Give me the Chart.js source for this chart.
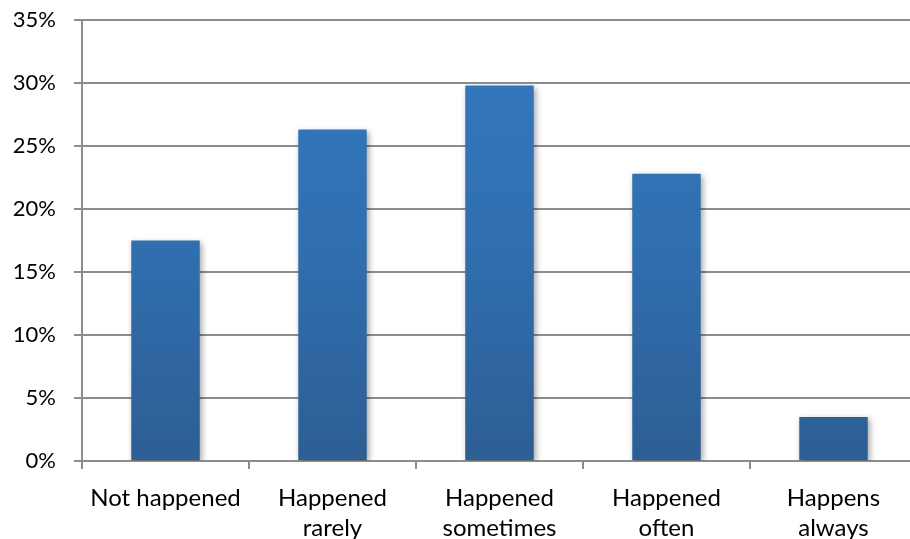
<!DOCTYPE html>
<html>
<head>
<meta charset="utf-8">
<script src="https://cdn.jsdelivr.net/npm/chart.js@4"></script>
<style>
    html, body { margin: 0; padding: 0; background: #fff; overflow: hidden; }
    #wrap { width: 920px; height: 539px; }
</style>
</head>
<body>
<div id="wrap"><canvas id="chart" width="920" height="539"></canvas></div>
<script>
// Категории и значения (в процентах)
const categories = [
    'Not happened',
    ['Happened', 'rarely'],
    ['Happened', 'sometimes'],
    ['Happened', 'often'],
    ['Happens', 'always']
];
const values = [17.5, 26.3, 29.8, 22.8, 3.5];
const yTicks = [0, 5, 10, 15, 20, 25, 30, 35];

const gridColor = '#8a8e8c';

// Тень под столбцами
const shadowPlugin = {
    id: 'barShadow',
    beforeDatasetsDraw(chart) {
        const ctx = chart.ctx;
        ctx.save();
        ctx.shadowColor = 'rgba(0, 0, 0, 0.35)';
        ctx.shadowBlur = 6;
        ctx.shadowOffsetX = 2;
        ctx.shadowOffsetY = 2;
    },
    afterDatasetsDraw(chart) {
        chart.ctx.restore();
    }
};

function barGradient(context) {
    const chart = context.chart;
    const area = chart.chartArea;
    if (!area) return '#3274b8';
    const g = chart.ctx.createLinearGradient(0, area.top, 0, area.bottom);
    g.addColorStop(0, '#3479c1');
    g.addColorStop(0.5, '#306fb0');
    g.addColorStop(1, '#2d5e94');
    return g;
}

new Chart(document.getElementById('chart'), {
    type: 'bar',
    data: {
        labels: categories,
        datasets: [{
            data: values,
            backgroundColor: barGradient,
            borderWidth: 0,
            categoryPercentage: 1,
            barPercentage: 0.41
        }]
    },
    options: {
        responsive: false,
        animation: false,
        layout: { padding: { top: 20, right: 3, left: 0, bottom: 0 } },
        plugins: {
            legend: { display: false },
            tooltip: { enabled: false }
        },
        scales: {
            x: {
                grid: {
                    display: true,
                    drawOnChartArea: false,
                    drawTicks: true,
                    tickLength: 8,
                    offset: true,
                    color: gridColor,
                    lineWidth: 2
                },
                border: { display: true, color: gridColor, width: 2 },
                ticks: {
                    color: '#000',
                    padding: 14,
                    maxRotation: 0,
                    autoSkip: false,
                    font: { family: 'Lato', size: 24, lineHeight: 1.25 }
                },
                afterFit(scale) {
                    scale.height = 78;
                    scale.paddingLeft = 0;
                    scale.paddingRight = 0;
                }
            },
            y: {
                min: 0,
                max: 35,
                afterBuildTicks(scale) {
                    scale.ticks = yTicks.map(v => ({ value: v }));
                },
                grid: {
                    color: gridColor,
                    lineWidth: 2,
                    drawTicks: true,
                    tickLength: 8
                },
                border: { display: true, color: gridColor, width: 2 },
                ticks: {
                    color: '#000',
                    padding: 18,
                    font: { family: 'Lato', size: 22 },
                    callback: v => v + '%'
                },
                afterFit(scale) {
                    scale.width = 82;
                    scale.paddingTop = 0;
                    scale.paddingBottom = 0;
                }
            }
        }
    },
    plugins: [shadowPlugin]
});
</script>
</body>
</html>
